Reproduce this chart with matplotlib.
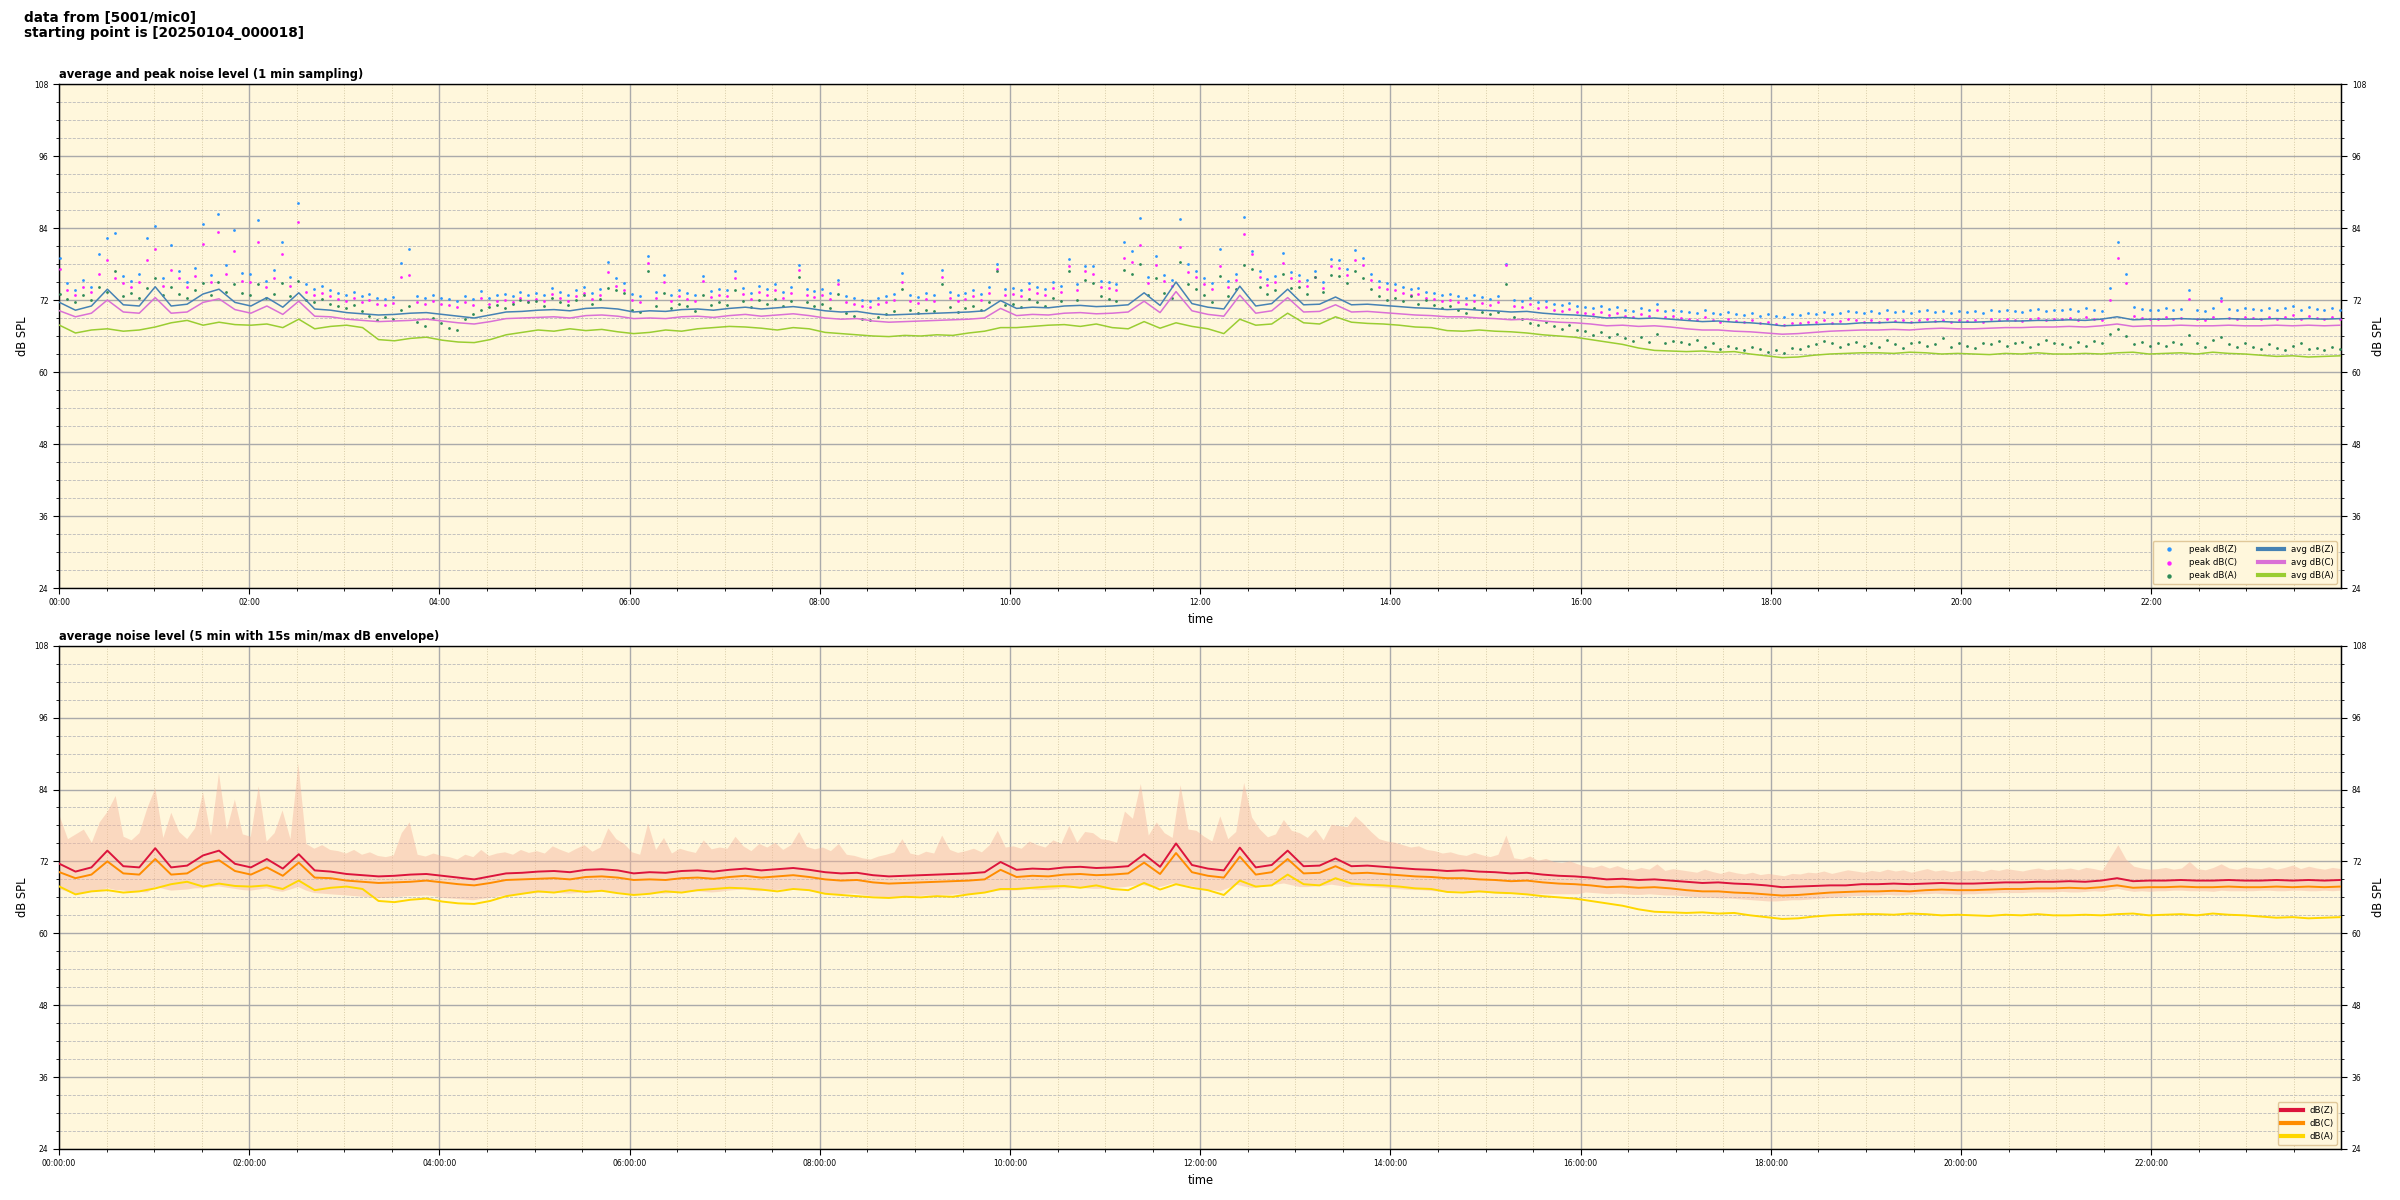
import matplotlib
matplotlib.use("Agg")
import numpy as np
import pandas as pd
import matplotlib.pyplot as plt
import matplotlib.dates as mdates
from matplotlib.ticker import MultipleLocator

# 10 min average levels, one row per hour (dB SPL)
avg_z = [
    71.6, 70.3, 71.0, 73.8, 71.2, 71.0,
    74.2, 71.0, 71.3, 73.0, 73.8, 71.6,
    71.0, 72.4, 70.8, 73.2, 70.5, 70.3,
    69.9, 69.7, 69.5, 69.6, 69.8, 69.9,
    69.6, 69.3, 69.0, 69.5, 70.0, 70.1,
    70.3, 70.4, 70.2, 70.6, 70.7, 70.5,
    70.0, 70.2, 70.1, 70.4, 70.5, 70.3,
    70.6, 70.8, 70.5, 70.7, 70.9, 70.6,
    70.2, 70.0, 70.1, 69.7, 69.5, 69.6,
    69.7, 69.8, 69.9, 70.0, 70.2, 71.9,
    70.6, 70.8, 70.7, 71.0, 71.1, 70.9,
    71.0, 71.2, 73.2, 71.1, 75.0, 71.4,
    70.8, 70.5, 74.3, 71.0, 71.4, 73.8,
    71.2, 71.3, 72.5, 71.2, 71.3, 71.1,
    70.9, 70.7, 70.6, 70.4, 70.5, 70.3,
    70.2, 70.0, 70.1, 69.8, 69.6, 69.5,
    69.3, 69.0, 69.1, 68.9, 69.0, 68.8,
    68.6, 68.4, 68.5, 68.3, 68.2, 68.0,
    67.7, 67.8, 67.9, 68.0, 68.0, 68.2,
    68.2, 68.3, 68.2, 68.3, 68.4, 68.3,
    68.3, 68.4, 68.5, 68.5, 68.6, 68.6,
    68.7, 68.6, 68.8, 69.2, 68.7, 68.8,
    68.8, 68.9, 68.8, 68.8, 68.9, 68.8,
    68.8, 68.9, 68.8, 68.9, 68.8, 68.9,
]
avg_c = [
    70.2, 69.2, 69.8, 72.0, 70.0, 69.8,
    72.4, 69.8, 70.0, 71.6, 72.2, 70.4,
    69.8, 71.0, 69.6, 71.8, 69.3, 69.2,
    68.8, 68.6, 68.4, 68.5, 68.6, 68.8,
    68.5, 68.2, 68.0, 68.4, 68.9, 69.0,
    69.1, 69.2, 69.0, 69.4, 69.5, 69.3,
    68.9, 69.0, 68.9, 69.2, 69.3, 69.1,
    69.4, 69.6, 69.3, 69.5, 69.7, 69.4,
    69.0, 68.8, 68.9, 68.5, 68.3, 68.4,
    68.5, 68.6, 68.7, 68.8, 69.0, 70.6,
    69.4, 69.6, 69.5, 69.8, 69.9, 69.7,
    69.8, 70.0, 71.8, 69.9, 73.4, 70.2,
    69.6, 69.3, 72.8, 69.8, 70.2, 72.4,
    70.0, 70.1, 71.2, 70.0, 70.1, 69.9,
    69.7, 69.5, 69.4, 69.2, 69.2, 69.0,
    68.9, 68.7, 68.8, 68.5, 68.3, 68.2,
    68.0, 67.7, 67.8, 67.6, 67.7, 67.5,
    67.2, 67.0, 67.0, 66.8, 66.7, 66.5,
    66.3, 66.4, 66.6, 66.8, 66.9, 67.0,
    67.0, 67.1, 67.0, 67.2, 67.3, 67.2,
    67.2, 67.3, 67.4, 67.4, 67.5, 67.5,
    67.6, 67.5, 67.7, 68.0, 67.6, 67.7,
    67.7, 67.8, 67.7, 67.7, 67.8, 67.7,
    67.7, 67.8, 67.7, 67.8, 67.7, 67.8,
]
avg_a = [
    67.8, 66.5, 67.0, 67.2, 66.8, 67.0,
    67.5, 68.2, 68.6, 67.8, 68.3, 67.9,
    67.8, 68.0, 67.4, 68.8, 67.2, 67.6,
    67.8, 67.4, 65.4, 65.2, 65.6, 65.8,
    65.3, 65.0, 64.9, 65.4, 66.2, 66.6,
    67.0, 66.8, 67.2, 66.9, 67.1, 66.7,
    66.4, 66.6, 67.0, 66.8, 67.2, 67.4,
    67.6, 67.5, 67.3, 67.0, 67.4, 67.2,
    66.6, 66.4, 66.2, 66.0, 65.9, 66.1,
    66.0, 66.2, 66.1, 66.5, 66.8, 67.4,
    67.4, 67.6, 67.8, 67.9, 67.6, 68.0,
    67.4, 67.2, 68.4, 67.3, 68.2, 67.6,
    67.2, 66.4, 68.8, 67.8, 68.0, 69.8,
    68.2, 68.0, 69.2, 68.3, 68.1, 68.0,
    67.8, 67.5, 67.4, 66.9, 66.8, 67.0,
    66.8, 66.7, 66.5, 66.2, 66.0, 65.8,
    65.4, 65.0, 64.6, 64.0, 63.6, 63.5,
    63.4, 63.5, 63.3, 63.4, 63.0, 62.7,
    62.4, 62.5, 62.8, 63.0, 63.1, 63.2,
    63.2, 63.1, 63.3, 63.2, 63.0, 63.1,
    63.0, 62.9, 63.1, 63.0, 63.2, 63.0,
    63.0, 63.1, 63.0, 63.2, 63.3, 63.0,
    63.1, 63.2, 63.0, 63.3, 63.1, 63.0,
    62.8, 62.6, 62.7, 62.5, 62.6, 62.7,
]

# 5 min peak levels, one row per hour
peak_z = [
    79.0, 74.8, 73.6, 75.4, 74.2, 79.7, 82.3, 83.2, 76.0, 75.1, 76.4, 82.3,
    84.4, 75.6, 81.2, 76.8, 75.0, 77.4, 84.7, 76.2, 86.3, 77.9, 83.6, 76.5,
    76.4, 85.4, 75.2, 77.0, 81.7, 75.8, 88.2, 74.6, 73.8, 74.4, 73.6, 73.2,
    72.8, 73.4, 72.6, 73.0, 72.4, 72.2, 72.5, 78.2, 80.5, 72.6, 72.3, 72.8,
    72.4, 72.1, 71.8, 72.6, 72.2, 73.5, 72.4, 72.8, 73.0, 72.6, 73.4, 72.9,
    73.2, 72.8, 74.0, 73.4, 72.9, 73.6, 74.2, 73.1, 73.8, 78.4, 75.6, 74.8,
    73.0, 72.6, 79.3, 73.4, 76.2, 72.8, 73.6, 73.2, 72.9, 76.0, 73.5, 73.8,
    73.6, 76.8, 74.0, 73.2, 74.4, 73.8, 74.6, 73.4, 74.2, 77.8, 73.9, 73.5,
    73.8, 73.2, 75.4, 72.6, 72.4, 72.0, 71.8, 72.3, 72.6, 73.0, 76.5, 72.8,
    72.5, 73.1, 72.8, 77.0, 73.4, 72.9, 73.2, 73.6, 73.0, 74.2, 78.0, 73.8,
    74.0, 73.6, 74.8, 74.2, 73.8, 75.0, 74.4, 78.8, 74.6, 77.6, 77.6, 75.2,
    75.0, 74.6, 81.6, 80.2, 85.7, 75.8, 79.4, 76.2, 75.4, 85.5, 78.0, 76.8,
    75.6, 74.8, 80.5, 75.2, 76.4, 85.9, 80.1, 76.8, 75.5, 76.0, 79.8, 76.6,
    76.2, 75.4, 76.8, 75.0, 78.8, 78.6, 77.2, 80.4, 79.0, 76.4, 75.2, 74.8,
    74.6, 74.2, 73.8, 74.0, 73.4, 73.2, 72.8, 73.0, 72.6, 72.4, 72.9, 72.5,
    72.2, 72.6, 78.0, 72.0, 71.8, 72.3, 71.6, 71.9, 71.4, 71.2, 71.5, 71.0,
    70.8, 70.6, 71.0, 70.5, 70.9, 70.4, 70.2, 70.6, 70.3, 71.4, 70.1, 70.4,
    70.2, 70.0, 69.8, 70.3, 69.9, 69.6, 70.0, 69.7, 69.5, 69.8, 69.4, 69.6,
    69.4, 69.2, 69.6, 69.5, 69.8, 69.7, 70.0, 69.6, 69.9, 70.2, 70.0, 69.8,
    70.1, 69.9, 70.3, 70.0, 70.2, 69.8, 70.1, 70.4, 70.0, 70.2, 69.9, 70.1,
    70.0, 70.2, 69.9, 70.3, 70.1, 70.4, 70.2, 70.0, 70.3, 70.5, 70.2, 70.4,
    70.3, 70.5, 70.2, 70.6, 70.4, 70.1, 74.0, 81.7, 76.4, 70.8, 70.5, 70.3,
    70.4, 70.6, 70.3, 70.5, 73.7, 70.4, 70.2, 70.6, 72.3, 70.5, 70.3, 70.7,
    70.5, 70.4, 70.7, 70.3, 70.6, 71.0, 70.4, 70.8, 70.5, 70.3, 70.6, 70.4,
]
peak_c = [
    77.2, 73.6, 72.8, 74.2, 73.4, 76.4, 78.7, 75.6, 74.8, 74.2, 75.0, 78.6,
    80.5, 74.4, 77.0, 75.6, 74.2, 76.0, 81.4, 75.0, 83.3, 76.4, 80.2, 75.2,
    75.0, 81.6, 74.2, 75.6, 79.6, 74.4, 85.0, 73.4, 72.8, 73.2, 72.6, 72.2,
    71.8, 72.4, 71.6, 72.0, 71.4, 71.2, 71.5, 75.8, 76.2, 71.6, 71.3, 71.8,
    71.4, 71.1, 70.8, 71.6, 71.2, 72.4, 71.4, 71.8, 72.0, 71.6, 72.4, 71.9,
    72.2, 71.8, 73.0, 72.4, 71.9, 72.6, 73.2, 72.1, 72.8, 76.6, 74.4, 73.6,
    72.0, 71.6, 78.2, 72.4, 75.0, 71.8, 72.6, 72.2, 71.9, 75.2, 72.5, 72.8,
    72.6, 75.6, 73.0, 72.2, 73.4, 72.8, 73.6, 72.4, 73.2, 77.0, 72.9, 72.5,
    72.8, 72.2, 74.6, 71.6, 71.4, 71.0, 70.8, 71.3, 71.6, 72.0, 75.0, 71.8,
    71.5, 72.1, 71.8, 75.8, 72.4, 71.9, 72.2, 72.6, 72.0, 73.2, 77.2, 72.8,
    73.0, 72.6, 73.8, 73.2, 72.8, 74.0, 73.4, 77.6, 73.6, 76.8, 76.4, 74.2,
    74.0, 73.6, 79.0, 78.4, 81.2, 74.8, 77.8, 75.2, 74.4, 80.8, 76.6, 75.8,
    74.6, 73.8, 77.6, 74.2, 75.4, 83.0, 79.6, 75.8, 74.5, 75.0, 78.2, 75.6,
    75.2, 74.4, 75.8, 74.0, 77.6, 77.4, 76.2, 78.6, 77.8, 75.4, 74.2, 73.8,
    73.6, 73.2, 72.8, 73.0, 72.4, 72.2, 71.8, 72.0, 71.6, 71.4, 71.9, 71.5,
    71.2, 71.6, 77.9, 71.0, 70.8, 71.3, 70.6, 70.9, 70.4, 70.2, 70.5, 70.0,
    69.8, 69.6, 70.0, 69.5, 69.9, 69.4, 69.2, 69.6, 69.3, 70.4, 69.1, 69.4,
    69.0, 68.8, 68.6, 69.1, 68.7, 68.4, 68.8, 68.5, 68.3, 68.6, 68.2, 68.4,
    68.0, 67.8, 68.2, 68.1, 68.4, 68.3, 68.6, 68.2, 68.5, 68.8, 68.6, 68.4,
    68.6, 68.4, 68.8, 68.5, 68.7, 68.3, 68.6, 68.9, 68.5, 68.7, 68.4, 68.6,
    68.5, 68.7, 68.4, 68.8, 68.6, 68.9, 68.7, 68.5, 68.8, 69.0, 68.7, 68.9,
    68.8, 69.0, 68.7, 69.1, 68.9, 68.6, 72.0, 79.0, 74.8, 69.3, 69.0, 68.8,
    68.9, 69.1, 68.8, 69.0, 72.2, 68.9, 68.7, 69.1, 71.8, 69.0, 68.8, 69.2,
    69.0, 68.9, 69.2, 68.8, 69.1, 69.5, 68.9, 69.3, 69.0, 68.8, 69.1, 68.9,
]
peak_a = [
    73.0, 72.2, 71.6, 72.8, 72.0, 74.2, 73.4, 76.8, 72.6, 73.2, 72.4, 74.0,
    75.6, 72.8, 74.2, 73.0, 72.4, 73.6, 74.8, 72.9, 75.0, 73.4, 74.6, 73.2,
    72.8, 74.6, 72.4, 73.0, 74.8, 72.6, 75.2, 72.0, 71.6, 72.2, 71.4, 71.0,
    70.6, 71.2, 70.2, 69.4, 68.6, 69.2, 68.8, 70.4, 71.0, 68.4, 67.6, 69.0,
    68.2, 67.4, 67.0, 68.8, 69.6, 70.4, 70.8, 71.2, 70.6, 71.4, 72.0, 71.6,
    71.8, 71.0, 72.4, 71.6, 71.2, 72.0, 72.8, 71.4, 72.2, 74.0, 73.6, 73.2,
    70.4, 70.0, 76.8, 71.0, 73.2, 70.6, 71.4, 71.0, 70.2, 72.8, 71.2, 71.6,
    71.2, 73.6, 71.8, 70.8, 72.0, 71.4, 72.2, 71.0, 71.8, 75.8, 71.6, 71.0,
    71.4, 70.6, 73.0, 69.8, 69.4, 68.8, 68.6, 69.2, 69.6, 70.2, 73.8, 70.4,
    69.8, 70.4, 70.2, 74.6, 70.8, 70.0, 70.6, 71.0, 70.4, 71.6, 76.8, 71.2,
    71.4, 70.8, 72.2, 71.6, 71.0, 72.4, 71.8, 76.8, 72.0, 75.4, 74.8, 72.6,
    72.2, 71.8, 77.0, 76.4, 78.0, 72.8, 75.6, 73.2, 72.4, 78.4, 74.6, 73.8,
    72.8, 71.6, 76.0, 72.6, 73.8, 77.8, 77.2, 74.2, 73.0, 73.6, 76.4, 74.0,
    74.2, 73.0, 75.8, 73.4, 76.2, 76.0, 74.8, 76.8, 75.6, 73.8, 72.6, 72.0,
    72.4, 71.8, 72.6, 71.4, 72.0, 71.2, 70.6, 71.0, 70.4, 69.8, 70.6, 70.0,
    69.6, 70.0, 74.6, 69.2, 68.8, 68.2, 67.8, 68.4, 67.6, 67.2, 67.8, 67.0,
    66.8, 66.2, 66.6, 65.8, 66.4, 65.6, 65.2, 65.8, 65.0, 66.4, 64.8, 65.2,
    65.0, 64.6, 65.4, 64.2, 64.8, 63.8, 64.4, 64.0, 63.6, 64.2, 63.8, 63.4,
    63.6, 63.2, 64.0, 63.8, 64.4, 64.6, 65.2, 64.8, 64.2, 64.6, 65.0, 64.4,
    64.8, 64.2, 65.4, 64.6, 64.0, 64.8, 65.0, 64.4, 64.6, 65.6, 64.2, 64.8,
    64.4, 64.0, 64.8, 64.6, 65.2, 64.4, 64.8, 65.0, 64.2, 64.6, 65.4, 64.8,
    64.6, 64.2, 65.0, 64.4, 65.2, 64.8, 66.4, 67.2, 66.0, 64.6, 65.0, 64.4,
    64.8, 64.4, 65.0, 64.6, 66.2, 64.8, 64.2, 65.4, 65.8, 64.6, 64.2, 64.8,
    64.2, 63.8, 64.6, 64.0, 63.6, 64.4, 64.8, 63.8, 64.0, 63.6, 64.2, 63.8,
]

# 15 s min / max envelope, sampled every 5 min, one row per hour
env_max = [
    79.5, 75.8, 76.6, 77.4, 75.2, 78.6, 80.4, 83.0, 76.2, 75.6, 76.8, 81.0,
    84.3, 76.0, 80.2, 77.0, 75.8, 77.6, 83.6, 76.4, 86.8, 77.4, 82.4, 76.6,
    76.2, 84.6, 75.4, 76.8, 80.6, 75.8, 88.4, 75.0, 74.2, 74.8, 74.0, 73.8,
    73.4, 74.0, 73.2, 73.6, 73.0, 72.8, 73.1, 76.8, 78.6, 73.2, 72.9, 73.4,
    73.0, 72.8, 72.4, 73.2, 72.8, 74.0, 73.0, 73.4, 73.6, 73.2, 74.0, 73.5,
    73.8, 73.4, 74.6, 74.0, 73.5, 74.2, 74.8, 73.7, 74.4, 77.6, 75.8, 75.0,
    73.6, 73.2, 78.4, 74.0, 76.0, 73.4, 74.2, 73.8, 73.5, 75.6, 74.1, 74.4,
    74.2, 76.2, 74.6, 73.8, 75.0, 74.4, 75.2, 74.0, 74.8, 77.0, 74.5, 74.1,
    74.4, 73.8, 75.0, 73.2, 73.0, 72.6, 72.4, 72.9, 73.2, 73.6, 75.8, 73.4,
    73.1, 73.7, 73.4, 76.4, 74.0, 73.5, 73.8, 74.2, 73.6, 74.8, 77.2, 74.4,
    74.6, 74.2, 75.4, 74.8, 74.4, 75.6, 75.0, 78.0, 75.2, 77.0, 76.8, 75.8,
    75.6, 75.2, 80.4, 79.2, 85.0, 76.4, 78.6, 76.8, 76.0, 84.8, 77.4, 77.2,
    76.2, 75.4, 79.6, 75.8, 77.0, 85.2, 79.4, 77.4, 76.1, 76.6, 79.0, 77.2,
    76.8, 76.0, 77.4, 75.6, 78.2, 78.0, 77.8, 79.6, 78.4, 77.0, 75.8, 75.4,
    75.2, 74.8, 74.4, 74.6, 74.0, 73.8, 73.4, 73.6, 73.2, 73.0, 73.5, 73.1,
    72.8, 73.2, 76.4, 72.6, 72.4, 72.9, 72.2, 72.5, 72.0, 71.8, 72.1, 71.6,
    71.2, 71.0, 71.4, 70.9, 71.3, 70.8, 70.6, 71.0, 70.7, 71.6, 70.5, 70.8,
    70.6, 70.4, 70.2, 70.7, 70.3, 70.0, 70.4, 70.1, 69.9, 70.2, 69.8, 70.0,
    69.8, 69.6, 70.0, 69.9, 70.2, 70.1, 70.4, 70.0, 70.3, 70.6, 70.4, 70.2,
    70.5, 70.3, 70.7, 70.4, 70.6, 70.2, 70.5, 70.8, 70.4, 70.6, 70.3, 70.5,
    70.4, 70.6, 70.3, 70.7, 70.5, 70.8, 70.6, 70.4, 70.7, 70.9, 70.6, 70.8,
    70.7, 70.9, 70.6, 71.0, 70.8, 70.5, 72.6, 74.8, 72.4, 71.2, 70.9, 70.7,
    70.8, 71.0, 70.7, 70.9, 72.0, 70.8, 70.6, 71.0, 71.6, 70.9, 70.7, 71.1,
    70.9, 70.8, 71.1, 70.7, 71.0, 71.4, 70.8, 71.2, 70.9, 70.7, 71.0, 70.8,
]
env_min = [
    67.4, 67.0, 66.6, 66.8, 67.0, 67.2, 67.6, 67.3, 67.2, 67.0, 67.0, 66.9,
    67.8, 67.5, 67.2, 67.3, 67.4, 67.6, 67.6, 67.8, 67.9, 67.7, 67.5, 67.3,
    67.2, 67.4, 67.6, 67.2, 67.0, 67.4, 67.8, 67.2, 66.8, 66.7, 66.6, 66.5,
    66.4, 66.3, 66.2, 66.1, 66.0, 66.0, 66.1, 66.2, 66.3, 66.3, 66.4, 66.3,
    66.0, 65.9, 65.8, 65.7, 65.6, 65.8, 66.0, 66.2, 66.4, 66.5, 66.6, 66.7,
    66.8, 66.9, 66.9, 66.8, 66.7, 66.8, 67.0, 67.1, 67.1, 67.0, 66.9, 66.8,
    66.6, 66.7, 66.8, 66.8, 66.7, 66.8, 67.0, 67.0, 67.1, 67.0, 66.9, 67.0,
    67.2, 67.3, 67.4, 67.2, 67.1, 67.2, 67.3, 67.4, 67.5, 67.3, 67.2, 67.0,
    66.8, 66.7, 66.6, 66.7, 66.7, 66.5, 66.3, 66.2, 66.1, 66.1, 66.2, 66.3,
    66.3, 66.4, 66.4, 66.5, 66.5, 66.6, 66.6, 66.7, 66.8, 67.0, 67.2, 67.2,
    67.2, 67.3, 67.4, 67.3, 67.3, 67.4, 67.6, 67.6, 67.7, 67.6, 67.5, 67.5,
    67.6, 67.7, 67.8, 68.0, 68.2, 67.9, 67.7, 68.0, 68.4, 68.2, 68.0, 67.8,
    67.4, 67.3, 67.1, 67.6, 68.2, 67.9, 67.6, 67.8, 68.0, 68.2, 68.4, 68.1,
    67.8, 67.8, 67.9, 68.0, 68.2, 68.0, 67.8, 67.9, 67.9, 67.8, 67.7, 67.6,
    67.5, 67.4, 67.3, 67.3, 67.2, 67.1, 67.0, 67.0, 67.1, 67.0, 66.9, 66.9,
    66.8, 66.7, 66.6, 66.7, 66.7, 66.6, 66.6, 66.6, 66.6, 66.6, 66.6, 66.6,
    66.9, 66.8, 66.7, 66.6, 66.7, 66.6, 66.5, 66.5, 66.6, 66.5, 66.4, 66.4,
    66.3, 66.2, 66.1, 66.0, 66.0, 65.9, 65.9, 65.8, 65.7, 65.6, 65.5, 65.4,
    65.4, 65.5, 65.6, 65.6, 65.7, 65.8, 65.9, 66.0, 66.1, 66.2, 66.3, 66.3,
    66.4, 66.4, 66.5, 66.4, 66.4, 66.5, 66.6, 66.6, 66.7, 66.6, 66.6, 66.5,
    66.6, 66.6, 66.7, 66.7, 66.8, 66.8, 66.8, 66.8, 66.9, 66.9, 66.9, 66.9,
    67.0, 66.9, 66.9, 67.0, 67.1, 67.0, 67.3, 67.5, 67.2, 67.0, 67.1, 67.0,
    67.1, 67.1, 67.2, 67.2, 67.1, 67.1, 67.1, 67.0, 67.2, 67.1, 67.1, 67.1,
    67.1, 67.2, 67.2, 67.1, 67.1, 67.2, 67.2, 67.1, 67.1, 67.2, 67.1, 67.2,
]

t_start = pd.Timestamp("2025-01-04 00:00:18")
t_end = pd.Timestamp("2025-01-04 23:59:18")
t10 = pd.date_range(t_start, t_end, periods=len(avg_z))
t5 = pd.date_range(t_start, t_end, periods=len(peak_z))

BG = "#fff7dc"
TS = 5.5
LS = 8.3


def style_axes(ax, title, fmt):
    ax.set_facecolor(BG)
    ax.set_axisbelow(True)
    ax.set_ylim(24, 108)
    ax.set_xlim(pd.Timestamp("2025-01-04 00:00"), pd.Timestamp("2025-01-04 23:59:59"))
    ax.yaxis.set_major_locator(MultipleLocator(12))
    ax.yaxis.set_minor_locator(MultipleLocator(3))
    ax.xaxis.set_major_locator(mdates.HourLocator(byhour=range(0, 24, 2)))
    ax.xaxis.set_minor_locator(mdates.MinuteLocator(byminute=[0, 30]))
    ax.xaxis.set_major_formatter(mdates.DateFormatter(fmt))
    ax.xaxis.get_offset_text().set_visible(False)
    ax.yaxis.get_offset_text().set_visible(False)
    ax.tick_params(which="major", labelsize=TS, length=4, width=0.8)
    ax.tick_params(which="minor", length=2, width=0.6)
    ax.grid(which="major", color="#aaaaaa", lw=1.0)
    ax.yaxis.grid(which="minor", color="#bbbbbb", ls="--", lw=0.6)
    ax.xaxis.grid(which="minor", color="#d8cca8", ls=":", lw=0.7)
    for s in ax.spines.values():
        s.set_linewidth(1.0)
    ax.set_ylabel("dB SPL", fontsize=LS)
    ax.set_xlabel("time", fontsize=LS)
    ax.set_title(title, loc="left", fontsize=LS, fontweight="bold", pad=4)
    sec = ax.secondary_yaxis("right")
    sec.yaxis.set_major_locator(MultipleLocator(12))
    sec.yaxis.set_minor_locator(MultipleLocator(3))
    sec.yaxis.get_offset_text().set_visible(False)
    sec.xaxis.get_offset_text().set_visible(False)
    sec.tick_params(which="major", labelsize=TS, length=4, width=0.8)
    sec.tick_params(which="minor", length=2, width=0.6)
    sec.set_ylabel("dB SPL", fontsize=LS)


fig = plt.figure(figsize=(24, 12), dpi=100)
fig.text(0.01, 0.991, "data from [5001/mic0]\nstarting point is [20250104_000018]",
         fontsize=9.8, fontweight="bold", va="top", ha="left", linespacing=1.1)

ax1 = fig.add_axes([0.0246, 0.51, 0.951, 0.42])
style_axes(ax1, "average and peak noise level (1 min sampling)", "%H:%M")
ax1.scatter(t5, peak_z, s=4, marker="o", lw=0, color="#2b95ff", label="peak dB(Z)", zorder=3)
ax1.scatter(t5, peak_c, s=4, marker="o", lw=0, color="#ff22ff", label="peak dB(C)", zorder=3)
ax1.scatter(t5, peak_a, s=4, marker="o", lw=0, color="#2e8b57", label="peak dB(A)", zorder=3)
ax1.plot(t10, avg_z, color="steelblue", lw=1.1, label="avg dB(Z)", zorder=4)
ax1.plot(t10, avg_c, color="orchid", lw=1.1, label="avg dB(C)", zorder=4)
ax1.plot(t10, avg_a, color="yellowgreen", lw=1.1, label="avg dB(A)", zorder=4)
leg1 = ax1.legend(loc="lower right", ncol=2, fontsize=6.2, markerscale=1.6,
                  facecolor=BG, edgecolor="#e0c89a", framealpha=1.0,
                  handlelength=3, columnspacing=2.5)
for line in leg1.get_lines():
    line.set_linewidth(3)

ax2 = fig.add_axes([0.0246, 0.0425, 0.951, 0.4194])
style_axes(ax2, "average noise level (5 min with 15s min/max dB envelope)", "%H:%M:%S")
ax2.fill_between(t5, env_min, env_max, color="#f6b49c", alpha=0.45, lw=0, zorder=2)
ax2.plot(t10, avg_z, color="crimson", lw=1.4, label="dB(Z)", zorder=4)
ax2.plot(t10, avg_c, color="darkorange", lw=1.4, label="dB(C)", zorder=4)
ax2.plot(t10, avg_a, color="gold", lw=1.4, label="dB(A)", zorder=4)
leg2 = ax2.legend(loc="lower right", fontsize=6.2, facecolor=BG, edgecolor="#e0c89a",
                  framealpha=1.0, handlelength=2.5)
for line in leg2.get_lines():
    line.set_linewidth(3)

fig.savefig("out.png", dpi=100)
